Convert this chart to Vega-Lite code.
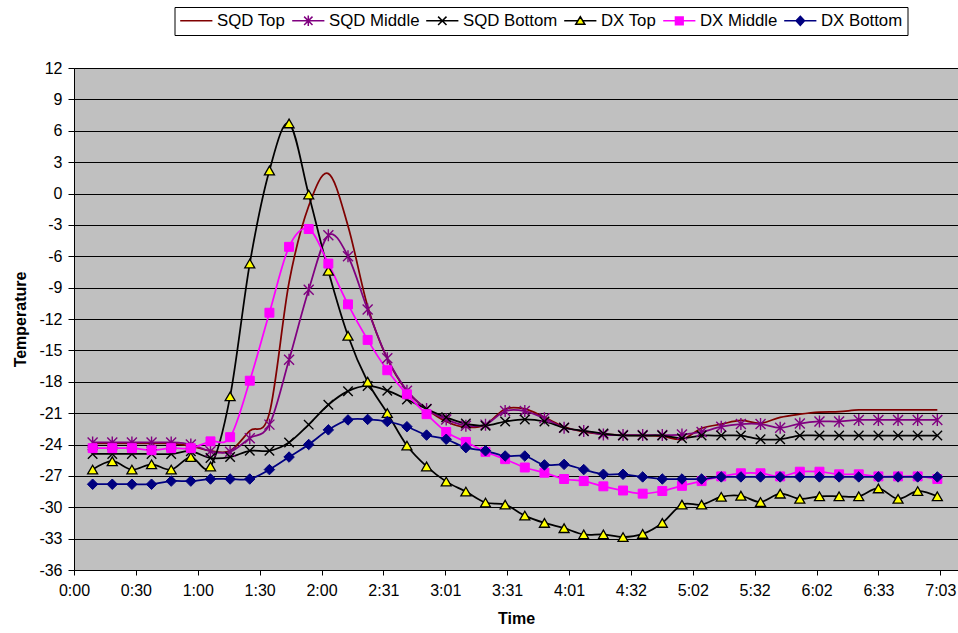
{
  "$schema": "https://vega.github.io/schema/vega-lite/v6.json",
  "width": 884,
  "height": 502,
  "autosize": {"type": "none"},
  "padding": {"left": 74, "top": 68, "right": 0, "bottom": 63},
  "background": "white",
  "config": {
    "font": "Liberation Sans",
    "view": {"fill": "#C0C0C0", "stroke": "#808080", "strokeWidth": 1}
  },
  "data": {"values": [
    {"t":9.1,"s":"SQD Top","v":-23.9},{"t":18.7,"s":"SQD Top","v":-23.9},{"t":28.3,"s":"SQD Top","v":-23.9},{"t":37.9,"s":"SQD Top","v":-23.9},{"t":47.5,"s":"SQD Top","v":-23.9},{"t":57.1,"s":"SQD Top","v":-24.15},{"t":66.7,"s":"SQD Top","v":-24.6},{"t":76.3,"s":"SQD Top","v":-24.6},{"t":85.9,"s":"SQD Top","v":-22.7},{"t":95.5,"s":"SQD Top","v":-21.0},{"t":105.1,"s":"SQD Top","v":-8.5},{"t":114.7,"s":"SQD Top","v":-1.2},{"t":124.3,"s":"SQD Top","v":1.9},{"t":133.9,"s":"SQD Top","v":-3.1},{"t":143.5,"s":"SQD Top","v":-10.8},{"t":153.1,"s":"SQD Top","v":-15.8},{"t":162.7,"s":"SQD Top","v":-18.9},{"t":172.3,"s":"SQD Top","v":-20.6},{"t":181.9,"s":"SQD Top","v":-21.8},{"t":191.5,"s":"SQD Top","v":-22.35},{"t":201.1,"s":"SQD Top","v":-22.1},{"t":210.7,"s":"SQD Top","v":-20.6},{"t":220.3,"s":"SQD Top","v":-20.6},{"t":229.9,"s":"SQD Top","v":-21.4},{"t":239.5,"s":"SQD Top","v":-22.3},{"t":249.1,"s":"SQD Top","v":-22.8},{"t":258.7,"s":"SQD Top","v":-23.0},{"t":268.3,"s":"SQD Top","v":-23.1},{"t":277.9,"s":"SQD Top","v":-23.15},{"t":287.5,"s":"SQD Top","v":-23.2},{"t":297.1,"s":"SQD Top","v":-23.5},{"t":306.7,"s":"SQD Top","v":-22.45},{"t":316.3,"s":"SQD Top","v":-22.06},{"t":325.9,"s":"SQD Top","v":-21.7},{"t":335.5,"s":"SQD Top","v":-21.97},{"t":345.1,"s":"SQD Top","v":-21.4},{"t":354.7,"s":"SQD Top","v":-21.1},{"t":364.3,"s":"SQD Top","v":-20.9},{"t":373.9,"s":"SQD Top","v":-20.85},{"t":383.5,"s":"SQD Top","v":-20.7},{"t":393.1,"s":"SQD Top","v":-20.7},{"t":402.7,"s":"SQD Top","v":-20.7},{"t":412.3,"s":"SQD Top","v":-20.7},{"t":421.9,"s":"SQD Top","v":-20.7},

    {"t":9.1,"s":"SQD Middle","v":-23.8},{"t":18.7,"s":"SQD Middle","v":-23.8},{"t":28.3,"s":"SQD Middle","v":-23.8},{"t":37.9,"s":"SQD Middle","v":-23.8},{"t":47.5,"s":"SQD Middle","v":-23.8},{"t":57.1,"s":"SQD Middle","v":-24.0},{"t":66.7,"s":"SQD Middle","v":-24.65},{"t":76.3,"s":"SQD Middle","v":-24.7},{"t":85.9,"s":"SQD Middle","v":-23.4},{"t":95.5,"s":"SQD Middle","v":-22.1},{"t":105.1,"s":"SQD Middle","v":-15.9},{"t":114.7,"s":"SQD Middle","v":-9.2},{"t":124.3,"s":"SQD Middle","v":-4.0},{"t":133.9,"s":"SQD Middle","v":-6.0},{"t":143.5,"s":"SQD Middle","v":-11.1},{"t":153.1,"s":"SQD Middle","v":-15.75},{"t":162.7,"s":"SQD Middle","v":-18.85},{"t":172.3,"s":"SQD Middle","v":-20.6},{"t":181.9,"s":"SQD Middle","v":-21.6},{"t":191.5,"s":"SQD Middle","v":-22.2},{"t":201.1,"s":"SQD Middle","v":-22.1},{"t":210.7,"s":"SQD Middle","v":-20.8},{"t":220.3,"s":"SQD Middle","v":-20.8},{"t":229.9,"s":"SQD Middle","v":-21.5},{"t":239.5,"s":"SQD Middle","v":-22.4},{"t":249.1,"s":"SQD Middle","v":-22.7},{"t":258.7,"s":"SQD Middle","v":-23.05},{"t":268.3,"s":"SQD Middle","v":-23.1},{"t":277.9,"s":"SQD Middle","v":-23.1},{"t":287.5,"s":"SQD Middle","v":-23.1},{"t":297.1,"s":"SQD Middle","v":-23.05},{"t":306.7,"s":"SQD Middle","v":-22.8},{"t":316.3,"s":"SQD Middle","v":-22.3},{"t":325.9,"s":"SQD Middle","v":-22.05},{"t":335.5,"s":"SQD Middle","v":-22.05},{"t":345.1,"s":"SQD Middle","v":-22.4},{"t":354.7,"s":"SQD Middle","v":-22.0},{"t":364.3,"s":"SQD Middle","v":-21.8},{"t":373.9,"s":"SQD Middle","v":-21.8},{"t":383.5,"s":"SQD Middle","v":-21.65},{"t":393.1,"s":"SQD Middle","v":-21.65},{"t":402.7,"s":"SQD Middle","v":-21.65},{"t":412.3,"s":"SQD Middle","v":-21.65},{"t":421.9,"s":"SQD Middle","v":-21.65},

    {"t":9.1,"s":"SQD Bottom","v":-24.9},{"t":18.7,"s":"SQD Bottom","v":-24.9},{"t":28.3,"s":"SQD Bottom","v":-24.9},{"t":37.9,"s":"SQD Bottom","v":-24.9},{"t":47.5,"s":"SQD Bottom","v":-24.9},{"t":57.1,"s":"SQD Bottom","v":-24.65},{"t":66.7,"s":"SQD Bottom","v":-25.3},{"t":76.3,"s":"SQD Bottom","v":-25.2},{"t":85.9,"s":"SQD Bottom","v":-24.6},{"t":95.5,"s":"SQD Bottom","v":-24.6},{"t":105.1,"s":"SQD Bottom","v":-23.8},{"t":114.7,"s":"SQD Bottom","v":-22.1},{"t":124.3,"s":"SQD Bottom","v":-20.2},{"t":133.9,"s":"SQD Bottom","v":-18.9},{"t":143.5,"s":"SQD Bottom","v":-18.4},{"t":153.1,"s":"SQD Bottom","v":-18.85},{"t":162.7,"s":"SQD Bottom","v":-19.7},{"t":172.3,"s":"SQD Bottom","v":-20.6},{"t":181.9,"s":"SQD Bottom","v":-21.4},{"t":191.5,"s":"SQD Bottom","v":-22.0},{"t":201.1,"s":"SQD Bottom","v":-22.2},{"t":210.7,"s":"SQD Bottom","v":-21.8},{"t":220.3,"s":"SQD Bottom","v":-21.6},{"t":229.9,"s":"SQD Bottom","v":-21.8},{"t":239.5,"s":"SQD Bottom","v":-22.4},{"t":249.1,"s":"SQD Bottom","v":-22.7},{"t":258.7,"s":"SQD Bottom","v":-22.95},{"t":268.3,"s":"SQD Bottom","v":-23.15},{"t":277.9,"s":"SQD Bottom","v":-23.15},{"t":287.5,"s":"SQD Bottom","v":-23.15},{"t":297.1,"s":"SQD Bottom","v":-23.4},{"t":306.7,"s":"SQD Bottom","v":-23.15},{"t":316.3,"s":"SQD Bottom","v":-23.15},{"t":325.9,"s":"SQD Bottom","v":-23.15},{"t":335.5,"s":"SQD Bottom","v":-23.5},{"t":345.1,"s":"SQD Bottom","v":-23.5},{"t":354.7,"s":"SQD Bottom","v":-23.15},{"t":364.3,"s":"SQD Bottom","v":-23.15},{"t":373.9,"s":"SQD Bottom","v":-23.15},{"t":383.5,"s":"SQD Bottom","v":-23.15},{"t":393.1,"s":"SQD Bottom","v":-23.15},{"t":402.7,"s":"SQD Bottom","v":-23.15},{"t":412.3,"s":"SQD Bottom","v":-23.15},{"t":421.9,"s":"SQD Bottom","v":-23.15},

    {"t":9.1,"s":"DX Top","v":-26.4},{"t":18.7,"s":"DX Top","v":-25.6},{"t":28.3,"s":"DX Top","v":-26.4},{"t":37.9,"s":"DX Top","v":-25.9},{"t":47.5,"s":"DX Top","v":-26.4},{"t":57.1,"s":"DX Top","v":-25.2},{"t":66.7,"s":"DX Top","v":-26.1},{"t":76.3,"s":"DX Top","v":-19.4},{"t":85.9,"s":"DX Top","v":-6.7},{"t":95.5,"s":"DX Top","v":2.2},{"t":105.1,"s":"DX Top","v":6.7},{"t":114.7,"s":"DX Top","v":-0.1},{"t":124.3,"s":"DX Top","v":-7.4},{"t":133.9,"s":"DX Top","v":-13.6},{"t":143.5,"s":"DX Top","v":-18.0},{"t":153.1,"s":"DX Top","v":-21.0},{"t":162.7,"s":"DX Top","v":-24.1},{"t":172.3,"s":"DX Top","v":-26.1},{"t":181.9,"s":"DX Top","v":-27.55},{"t":191.5,"s":"DX Top","v":-28.5},{"t":201.1,"s":"DX Top","v":-29.55},{"t":210.7,"s":"DX Top","v":-29.75},{"t":220.3,"s":"DX Top","v":-30.8},{"t":229.9,"s":"DX Top","v":-31.5},{"t":239.5,"s":"DX Top","v":-32.0},{"t":249.1,"s":"DX Top","v":-32.6},{"t":258.7,"s":"DX Top","v":-32.6},{"t":268.3,"s":"DX Top","v":-32.85},{"t":277.9,"s":"DX Top","v":-32.55},{"t":287.5,"s":"DX Top","v":-31.5},{"t":297.1,"s":"DX Top","v":-29.75},{"t":306.7,"s":"DX Top","v":-29.75},{"t":316.3,"s":"DX Top","v":-29.0},{"t":325.9,"s":"DX Top","v":-28.9},{"t":335.5,"s":"DX Top","v":-29.5},{"t":345.1,"s":"DX Top","v":-28.7},{"t":354.7,"s":"DX Top","v":-29.2},{"t":364.3,"s":"DX Top","v":-28.95},{"t":373.9,"s":"DX Top","v":-28.95},{"t":383.5,"s":"DX Top","v":-28.95},{"t":393.1,"s":"DX Top","v":-28.2},{"t":402.7,"s":"DX Top","v":-29.2},{"t":412.3,"s":"DX Top","v":-28.45},{"t":421.9,"s":"DX Top","v":-28.95},

    {"t":9.1,"s":"DX Middle","v":-24.35},{"t":18.7,"s":"DX Middle","v":-24.35},{"t":28.3,"s":"DX Middle","v":-24.35},{"t":37.9,"s":"DX Middle","v":-24.55},{"t":47.5,"s":"DX Middle","v":-24.35},{"t":57.1,"s":"DX Middle","v":-24.35},{"t":66.7,"s":"DX Middle","v":-23.7},{"t":76.3,"s":"DX Middle","v":-23.3},{"t":85.9,"s":"DX Middle","v":-17.9},{"t":95.5,"s":"DX Middle","v":-11.4},{"t":105.1,"s":"DX Middle","v":-5.1},{"t":114.7,"s":"DX Middle","v":-3.4},{"t":124.3,"s":"DX Middle","v":-6.7},{"t":133.9,"s":"DX Middle","v":-10.6},{"t":143.5,"s":"DX Middle","v":-14.0},{"t":153.1,"s":"DX Middle","v":-16.9},{"t":162.7,"s":"DX Middle","v":-19.2},{"t":172.3,"s":"DX Middle","v":-21.1},{"t":181.9,"s":"DX Middle","v":-22.8},{"t":191.5,"s":"DX Middle","v":-23.75},{"t":201.1,"s":"DX Middle","v":-24.7},{"t":210.7,"s":"DX Middle","v":-25.4},{"t":220.3,"s":"DX Middle","v":-26.2},{"t":229.9,"s":"DX Middle","v":-26.7},{"t":239.5,"s":"DX Middle","v":-27.3},{"t":249.1,"s":"DX Middle","v":-27.5},{"t":258.7,"s":"DX Middle","v":-28.0},{"t":268.3,"s":"DX Middle","v":-28.4},{"t":277.9,"s":"DX Middle","v":-28.7},{"t":287.5,"s":"DX Middle","v":-28.45},{"t":297.1,"s":"DX Middle","v":-27.95},{"t":306.7,"s":"DX Middle","v":-27.5},{"t":316.3,"s":"DX Middle","v":-27.05},{"t":325.9,"s":"DX Middle","v":-26.75},{"t":335.5,"s":"DX Middle","v":-26.75},{"t":345.1,"s":"DX Middle","v":-27.05},{"t":354.7,"s":"DX Middle","v":-26.6},{"t":364.3,"s":"DX Middle","v":-26.6},{"t":373.9,"s":"DX Middle","v":-26.85},{"t":383.5,"s":"DX Middle","v":-26.85},{"t":393.1,"s":"DX Middle","v":-27.05},{"t":402.7,"s":"DX Middle","v":-27.05},{"t":412.3,"s":"DX Middle","v":-27.05},{"t":421.9,"s":"DX Middle","v":-27.3},

    {"t":9.1,"s":"DX Bottom","v":-27.8},{"t":18.7,"s":"DX Bottom","v":-27.8},{"t":28.3,"s":"DX Bottom","v":-27.8},{"t":37.9,"s":"DX Bottom","v":-27.8},{"t":47.5,"s":"DX Bottom","v":-27.5},{"t":57.1,"s":"DX Bottom","v":-27.5},{"t":66.7,"s":"DX Bottom","v":-27.3},{"t":76.3,"s":"DX Bottom","v":-27.3},{"t":85.9,"s":"DX Bottom","v":-27.3},{"t":95.5,"s":"DX Bottom","v":-26.4},{"t":105.1,"s":"DX Bottom","v":-25.2},{"t":114.7,"s":"DX Bottom","v":-24.0},{"t":124.3,"s":"DX Bottom","v":-22.6},{"t":133.9,"s":"DX Bottom","v":-21.65},{"t":143.5,"s":"DX Bottom","v":-21.6},{"t":153.1,"s":"DX Bottom","v":-21.8},{"t":162.7,"s":"DX Bottom","v":-22.3},{"t":172.3,"s":"DX Bottom","v":-23.1},{"t":181.9,"s":"DX Bottom","v":-23.5},{"t":191.5,"s":"DX Bottom","v":-24.3},{"t":201.1,"s":"DX Bottom","v":-24.6},{"t":210.7,"s":"DX Bottom","v":-25.1},{"t":220.3,"s":"DX Bottom","v":-25.1},{"t":229.9,"s":"DX Bottom","v":-25.95},{"t":239.5,"s":"DX Bottom","v":-25.9},{"t":249.1,"s":"DX Bottom","v":-26.4},{"t":258.7,"s":"DX Bottom","v":-26.85},{"t":268.3,"s":"DX Bottom","v":-26.85},{"t":277.9,"s":"DX Bottom","v":-27.1},{"t":287.5,"s":"DX Bottom","v":-27.3},{"t":297.1,"s":"DX Bottom","v":-27.3},{"t":306.7,"s":"DX Bottom","v":-27.3},{"t":316.3,"s":"DX Bottom","v":-27.1},{"t":325.9,"s":"DX Bottom","v":-27.1},{"t":335.5,"s":"DX Bottom","v":-27.1},{"t":345.1,"s":"DX Bottom","v":-27.1},{"t":354.7,"s":"DX Bottom","v":-27.1},{"t":364.3,"s":"DX Bottom","v":-27.1},{"t":373.9,"s":"DX Bottom","v":-27.1},{"t":383.5,"s":"DX Bottom","v":-27.1},{"t":393.1,"s":"DX Bottom","v":-27.1},{"t":402.7,"s":"DX Bottom","v":-27.1},{"t":412.3,"s":"DX Bottom","v":-27.1},{"t":421.9,"s":"DX Bottom","v":-27.1}
  ]},
  "encoding": {
    "x": {
      "field": "t", "type": "quantitative",
      "scale": {"domain": [0, 432], "nice": false, "zero": false},
      "title": "Time",
      "axis": {
        "values": [0, 30.24, 60.48, 90.72, 120.96, 151.2, 181.44, 211.68, 241.92, 272.16, 302.4, 332.64, 362.88, 393.12, 423.36],
        "labelExpr": "floor(datum.value/60) + ':' + (floor(datum.value%60) < 10 ? '0' : '') + floor(datum.value%60)",
        "grid": false, "domainColor": "#000000", "tickColor": "#000000", "tickSize": 5,
        "labelFontSize": 16, "labelColor": "#000000", "labelPadding": 7, "labelFlush": false, "labelOverlap": false,
        "titleFontSize": 16, "titleFontWeight": "bold", "titleColor": "#000000", "titlePadding": 12
      }
    },
    "y": {
      "field": "v", "type": "quantitative",
      "scale": {"domain": [-36, 12], "nice": false, "zero": false},
      "title": "Temperature",
      "axis": {
        "values": [-36, -33, -30, -27, -24, -21, -18, -15, -12, -9, -6, -3, 0, 3, 6, 9, 12],
        "labelExpr": "'' + datum.value",
        "grid": true, "gridColor": "#000000", "gridOpacity": 1, "gridWidth": 1,
        "domainColor": "#000000", "tickColor": "#000000", "tickSize": 6,
        "labelFontSize": 16, "labelColor": "#000000", "labelPadding": 6,
        "titleFontSize": 16, "titleFontWeight": "bold", "titleColor": "#000000", "titlePadding": 10
      }
    }
  },
  "layer": [
    {
      "mark": {"type": "line", "interpolate": "cardinal", "strokeWidth": 1.75},
      "encoding": {
        "color": {
          "field": "s", "type": "nominal",
          "scale": {"domain": ["SQD Top", "SQD Middle", "SQD Bottom", "DX Top", "DX Middle", "DX Bottom"],
                    "range": ["#800000", "#800080", "#000000", "#000000", "#FF00FF", "#000080"]}
        }
      }
    },
    {
      "transform": [{"filter": "datum.s === 'SQD Middle'"}],
      "mark": {"type": "point", "filled": false, "opacity": 1, "strokeWidth": 1.4, "size": 100, "color": "#800080", "shape": "M-1,-1L1,1M-1,1L1,-1M0,-1.2V1.2"}
    },
    {
      "transform": [{"filter": "datum.s === 'SQD Bottom'"}],
      "mark": {"type": "point", "filled": false, "opacity": 1, "strokeWidth": 1.4, "size": 90, "color": "#000000", "shape": "M-1,-1L1,1M-1,1L1,-1"}
    },
    {
      "transform": [{"filter": "datum.s === 'DX Top'"}],
      "mark": {"type": "point", "opacity": 1, "strokeWidth": 1.3, "size": 100, "fill": "#FFFF00", "stroke": "#000000", "fillOpacity": 1, "shape": "triangle-up"}
    },
    {
      "transform": [{"filter": "datum.s === 'DX Middle'"}],
      "mark": {"type": "point", "opacity": 1, "strokeWidth": 1, "size": 80, "fill": "#FF00FF", "stroke": "#FF00FF", "fillOpacity": 1, "shape": "square"}
    },
    {
      "transform": [{"filter": "datum.s === 'DX Bottom'"}],
      "mark": {"type": "point", "opacity": 1, "strokeWidth": 1, "size": 110, "fill": "#000080", "stroke": "#000080", "fillOpacity": 1, "shape": "diamond"}
    },
    {
      "transform": [{"filter": "false"}],
      "mark": {"type": "point", "filled": false, "opacity": 1, "strokeWidth": 1.5},
      "encoding": {
        "color": {
          "field": "s", "type": "nominal",
          "scale": {"domain": ["SQD Top", "SQD Middle", "SQD Bottom", "DX Top", "DX Middle", "DX Bottom"],
                    "range": ["#800000", "#800080", "#000000", "#000000", "#FF00FF", "#000080"]},
          "legend": {
            "title": null, "orient": "none", "legendX": 100.5, "legendY": -61,
            "direction": "horizontal", "columns": 6,
            "symbolSize": 196, "symbolStrokeWidth": 1.5, "symbolOffset": 8.4,
            "labelOffset": 12.3, "columnPadding": 3,
            "labelFontSize": 16.8, "labelColor": "#000000",
            "strokeColor": "#000000", "fillColor": "#FFFFFF", "padding": 5
          }
        },
        "fill": {
          "field": "s", "type": "nominal",
          "scale": {"domain": ["SQD Top", "SQD Middle", "SQD Bottom", "DX Top", "DX Middle", "DX Bottom"],
                    "range": ["transparent", "transparent", "transparent", "#FFFF00", "#FF00FF", "#000080"]},
          "legend": {
            "title": null, "orient": "none", "legendX": 100.5, "legendY": -61,
            "direction": "horizontal", "columns": 6,
            "symbolSize": 196, "symbolStrokeWidth": 1.5, "symbolOffset": 8.4,
            "labelOffset": 12.3, "columnPadding": 3,
            "labelFontSize": 16.8, "labelColor": "#000000",
            "strokeColor": "#000000", "fillColor": "#FFFFFF", "padding": 5
          }
        },
        "shape": {
          "field": "s", "type": "nominal",
          "scale": {"domain": ["SQD Top", "SQD Middle", "SQD Bottom", "DX Top", "DX Middle", "DX Bottom"],
                    "range": ["M-2.3,0H2.3", "M-2.3,0H2.3M-0.6,-0.6L0.6,0.6M-0.6,0.6L0.6,-0.6M0,-0.75V0.75", "M-2.3,0H2.3M-0.6,-0.6L0.6,0.6M-0.6,0.6L0.6,-0.6", "M-2.3,0H-0.4M0.4,0H2.3M0,-0.6L0.65,0.5L-0.65,0.5Z", "M-2.3,0H2.3M-0.55,-0.55H0.55V0.55H-0.55Z", "M-2.3,0H2.3M0,-0.65L0.6,0L0,0.65L-0.6,0Z"]},
          "legend": {
            "title": null, "orient": "none", "legendX": 100.5, "legendY": -61,
            "direction": "horizontal", "columns": 6,
            "symbolSize": 196, "symbolStrokeWidth": 1.5, "symbolOffset": 8.4,
            "labelOffset": 12.3, "columnPadding": 3,
            "labelFontSize": 16.8, "labelColor": "#000000",
            "strokeColor": "#000000", "fillColor": "#FFFFFF", "padding": 5
          }
        }
      }
    }
  ]
}
